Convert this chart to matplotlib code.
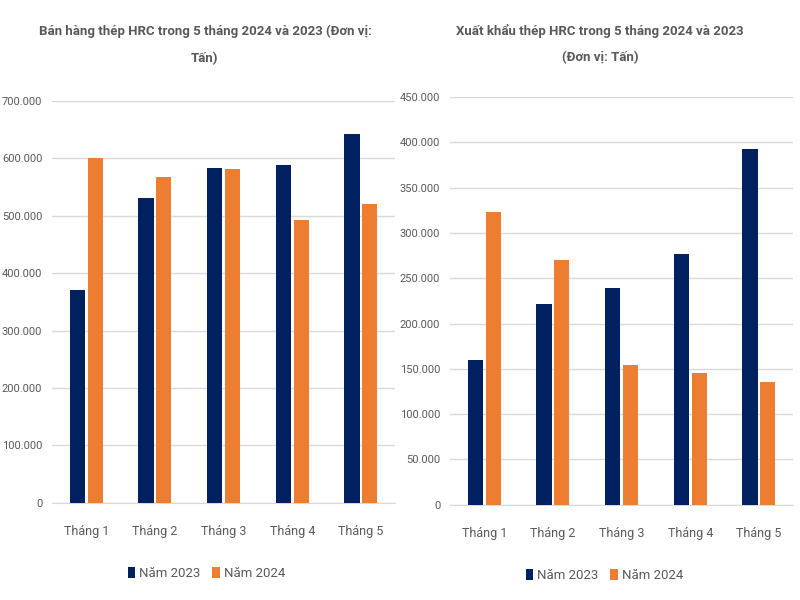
import matplotlib
matplotlib.use("Agg")
import matplotlib.pyplot as plt
from matplotlib.ticker import FuncFormatter
import numpy as np

months = ["Tháng 1", "Tháng 2", "Tháng 3", "Tháng 4", "Tháng 5"]
sales_2023 = [371000, 531000, 583000, 588000, 643000]
sales_2024 = [601000, 568000, 581000, 492000, 521000]
export_2023 = [160000, 222000, 239000, 277000, 393000]
export_2024 = [323000, 270000, 154000, 145000, 135000]

title_left = "Bán hàng thép HRC trong 5 tháng 2024 và 2023 (Đơn vị:\nTấn)"
title_right = "Xuất khẩu thép HRC trong 5 tháng 2024 và 2023\n(Đơn vị: Tấn)"
legend_labels = ["Năm 2023", "Năm 2024"]

NAVY = "#002060"
ORANGE = "#ED7D31"
GREY = "#595959"
GRID = "#D9D9D9"

plt.rcParams['font.family'] = ['Roboto', 'DejaVu Sans']

fig = plt.figure(figsize=(8, 6), dpi=100)

def fmt(v, pos):
    if v == 0:
        return "0"
    return f"{int(v):,}".replace(",", ".")

def draw(ax, a, b, ymax, step):
    x = np.arange(len(months))
    w = 0.22
    ax.bar(x - 0.13, a, w, color=NAVY, label=legend_labels[0], zorder=3)
    ax.bar(x + 0.13, b, w, color=ORANGE, label=legend_labels[1], zorder=3)
    ax.set_xlim(-0.5, len(months) - 0.5)
    ax.set_ylim(0, ymax)
    ax.set_yticks(np.arange(0, ymax + 1, step))
    ax.yaxis.set_major_formatter(FuncFormatter(fmt))
    ax.grid(axis='y', color=GRID, linewidth=1, zorder=0)
    for s in ["top", "right", "left"]:
        ax.spines[s].set_visible(False)
    ax.spines["bottom"].set_color(GRID)
    ax.tick_params(axis='both', length=0, colors=GREY)
    ax.tick_params(axis='y', pad=7, labelsize=8)
    ax.tick_params(axis='x', pad=16, labelsize=9)
    ax.set_xticks(x)
    ax.set_xticklabels(months)
    for t in ax.get_yticklabels() + ax.get_xticklabels():
        t.set_color(GREY)
    ax.legend(loc='center', bbox_to_anchor=(0.45, -0.175), ncol=2, frameon=False,
              fontsize=9.5, handlelength=0.55, handleheight=0.9, handletextpad=0.3,
              columnspacing=0.9, labelcolor=GREY)

ax1 = fig.add_axes([0.065, 0.162, 0.429, 0.670])
draw(ax1, sales_2023, sales_2024, 700000, 100000)
ax2 = fig.add_axes([0.5625, 0.159, 0.429, 0.679])
draw(ax2, export_2023, export_2024, 450000, 50000)

fig.text(205 / 800, 1 - 45 / 600, title_left, ha='center', va='center', fontsize=9.5,
         color=GREY, fontweight='bold', linespacing=2.3)
fig.text(600 / 800, 1 - 44 / 600, title_right, ha='center', va='center', fontsize=9.5,
         color=GREY, fontweight='bold', linespacing=2.2)

fig.savefig("out.png", dpi=100)
